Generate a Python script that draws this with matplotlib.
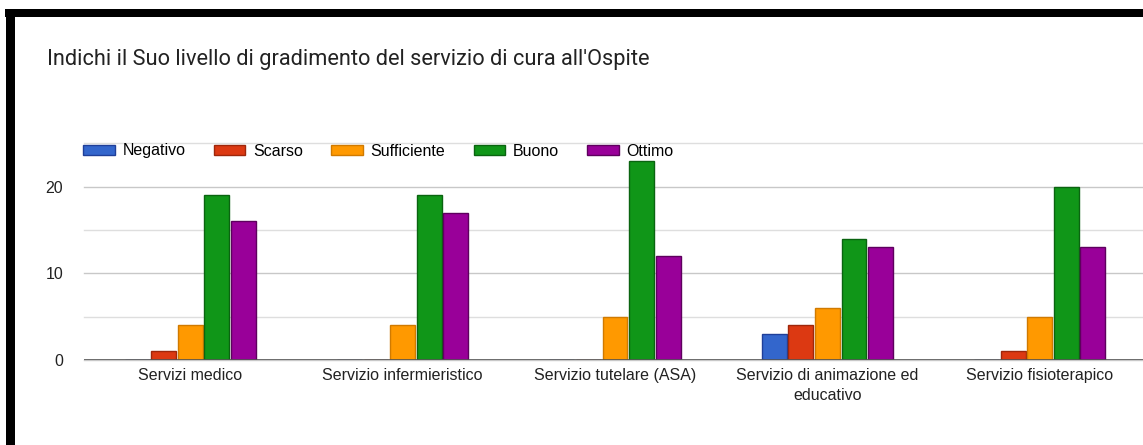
import numpy as np
import matplotlib
matplotlib.use('Agg')
import matplotlib.pyplot as plt
from matplotlib.patches import Rectangle

plt.rcParams['font.family'] = ['Liberation Sans', 'DejaVu Sans']

# survey answers per service
categories = ['Servizi medico', 'Servizio infermieristico', 'Servizio tutelare (ASA)',
              'Servizio di animazione ed\neducativo', 'Servizio fisioterapico']
levels = ['Negativo', 'Scarso', 'Sufficiente', 'Buono', 'Ottimo']
negativo = [0, 0, 0, 3, 0]
scarso = [1, 0, 0, 4, 1]
sufficiente = [4, 4, 5, 6, 5]
buono = [19, 19, 23, 14, 20]
ottimo = [16, 17, 12, 13, 13]

series = [negativo, scarso, sufficiente, buono, ottimo]
colors = ['#3366cc', '#dc3912', '#ff9900', '#109618', '#990099']
edges = ['#1f3f99', '#9e270b', '#d07a00', '#0a6410', '#5e005e']

W, H = 1143, 445
fig = plt.figure(figsize=(W / 100, H / 100), dpi=100)

def px(x0, y0, x1, y1):
    # pixel box (top-left origin) -> figure fraction rect
    return [x0 / W, 1 - y1 / H, (x1 - x0) / W, (y1 - y0) / H]

ax = fig.add_axes(px(84, 143.3, 1146, 360))

x = np.arange(len(categories))
slot = 0.125
bw = 0.117
for i, (vals, lab) in enumerate(zip(series, levels)):
    off = (i - 2) * slot
    ax.bar(x + off, vals, width=bw, color=colors[i], edgecolor=edges[i],
           linewidth=1.0, label=lab, zorder=3)

ax.set_xlim(-0.5, len(categories) - 0.5)
ax.set_ylim(0, 25)
ax.set_yticks([0, 10, 20])
ax.set_yticks([5, 15, 25], minor=True)
ax.set_xticks(x)
ax.set_xticklabels(categories, fontsize=11.5, color='#222222', linespacing=1.35)
ax.tick_params(axis='y', which='both', length=0, labelsize=11.5, labelcolor='#222222', pad=15)
ax.tick_params(axis='x', length=0, pad=6)
for s in ax.spines.values():
    s.set_visible(False)
ax.grid(axis='y', which='major', color='#c8c8c8', linewidth=1.0, zorder=0)
ax.grid(axis='y', which='minor', color='#dedede', linewidth=1.0, zorder=0)
for t in ax.yaxis.get_major_ticks() + ax.yaxis.get_minor_ticks():
    t.gridline.set_clip_on(False)
ax.axhline(0, color='#555555', linewidth=1.2, zorder=4)

leg = ax.legend(loc='center left', ncol=5, frameon=False, fontsize=11.5,
                handlelength=1.95, handleheight=0.65, handletextpad=0.5,
                columnspacing=1.78, borderaxespad=0,
                bbox_to_anchor=(77 / W, 1 - 151 / H), bbox_transform=fig.transFigure)

fig.text(47 / W, 1 - 60 / H, "Indichi il Suo livello di gradimento del servizio di cura all'Ospite",
         fontsize=15.7, family='Roboto', color='#222222', va='center', ha='left')

# black frame on top and left
fig.add_artist(Rectangle((5 / W, 1 - 17 / H), 1, 8 / H, transform=fig.transFigure,
                         facecolor='black', edgecolor='none'))
fig.add_artist(Rectangle((6 / W, 0), 9 / W, 1 - 9 / H, transform=fig.transFigure,
                         facecolor='black', edgecolor='none'))

fig.savefig('out.png', dpi=100, facecolor='white')
